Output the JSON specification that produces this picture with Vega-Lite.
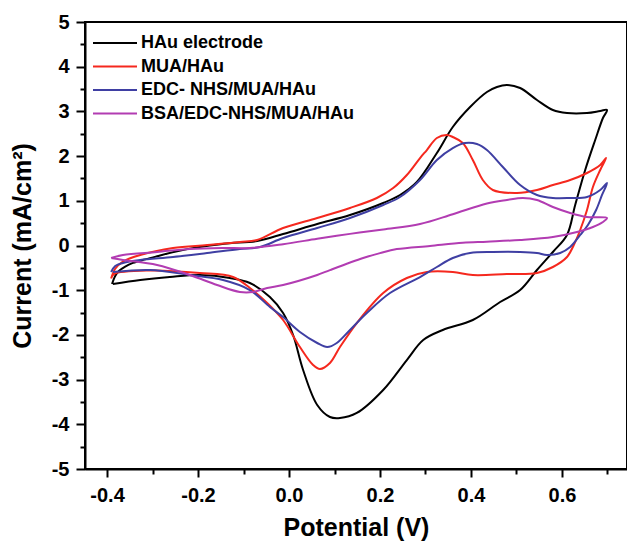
{
  "$schema": "https://vega.github.io/schema/vega-lite/v6.json",
  "width": 542,
  "height": 447,
  "autosize": "none",
  "padding": {"left": 85, "top": 22, "right": 0, "bottom": 73},
  "background": "white",
  "config": {
    "view": {"stroke": "black", "strokeWidth": 2},
    "axis": {"grid": false, "domainColor": "black", "domainWidth": 2, "tickColor": "black", "tickWidth": 2, "labelColor": "black", "labelFont": "Liberation Sans", "labelFontWeight": "bold", "labelFontSize": 20, "titleFont": "Liberation Sans", "titleFontWeight": "bold", "titleFontSize": 25, "titleColor": "black", "labelOverlap": false, "labelFlush": false, "labelBound": false}
  },
  "datasets": {
    "cv": [
      {"s":"HAu electrode","i":0,"v":-0.389,"c":-0.861},{"s":"HAu electrode","i":1,"v":-0.382,"c":-0.680},{"s":"HAu electrode","i":2,"v":-0.374,"c":-0.570},{"s":"HAu electrode","i":3,"v":-0.360,"c":-0.470},{"s":"HAu electrode","i":4,"v":-0.343,"c":-0.390},{"s":"HAu electrode","i":5,"v":-0.316,"c":-0.310},{"s":"HAu electrode","i":6,"v":-0.290,"c":-0.240},{"s":"HAu electrode","i":7,"v":-0.251,"c":-0.140},{"s":"HAu electrode","i":8,"v":-0.218,"c":-0.070},{"s":"HAu electrode","i":9,"v":-0.174,"c":0.000},{"s":"HAu electrode","i":10,"v":-0.130,"c":0.050},{"s":"HAu electrode","i":11,"v":-0.070,"c":0.101},{"s":"HAu electrode","i":12,"v":-0.013,"c":0.257},{"s":"HAu electrode","i":13,"v":0.062,"c":0.481},{"s":"HAu electrode","i":14,"v":0.134,"c":0.682},{"s":"HAu electrode","i":15,"v":0.207,"c":0.951},{"s":"HAu electrode","i":16,"v":0.244,"c":1.130},{"s":"HAu electrode","i":17,"v":0.281,"c":1.421},{"s":"HAu electrode","i":18,"v":0.325,"c":2.069},{"s":"HAu electrode","i":19,"v":0.360,"c":2.651},{"s":"HAu electrode","i":20,"v":0.398,"c":3.098},{"s":"HAu electrode","i":21,"v":0.435,"c":3.434},{"s":"HAu electrode","i":22,"v":0.457,"c":3.546},{"s":"HAu electrode","i":23,"v":0.479,"c":3.591},{"s":"HAu electrode","i":24,"v":0.508,"c":3.523},{"s":"HAu electrode","i":25,"v":0.545,"c":3.255},{"s":"HAu electrode","i":26,"v":0.580,"c":3.031},{"s":"HAu electrode","i":27,"v":0.611,"c":2.964},{"s":"HAu electrode","i":28,"v":0.655,"c":2.964},{"s":"HAu electrode","i":29,"v":0.684,"c":3.009},{"s":"HAu electrode","i":30,"v":0.699,"c":3.031},{"s":"HAu electrode","i":31,"v":0.690,"c":2.852},{"s":"HAu electrode","i":32,"v":0.673,"c":2.360},{"s":"HAu electrode","i":33,"v":0.651,"c":1.689},{"s":"HAu electrode","i":34,"v":0.629,"c":0.906},{"s":"HAu electrode","i":35,"v":0.611,"c":0.235},{"s":"HAu electrode","i":36,"v":0.580,"c":-0.145},{"s":"HAu electrode","i":37,"v":0.545,"c":-0.548},{"s":"HAu electrode","i":38,"v":0.508,"c":-0.996},{"s":"HAu electrode","i":39,"v":0.464,"c":-1.264},{"s":"HAu electrode","i":40,"v":0.404,"c":-1.667},{"s":"HAu electrode","i":41,"v":0.338,"c":-1.890},{"s":"HAu electrode","i":42,"v":0.295,"c":-2.114},{"s":"HAu electrode","i":43,"v":0.259,"c":-2.562},{"s":"HAu electrode","i":44,"v":0.207,"c":-3.233},{"s":"HAu electrode","i":45,"v":0.149,"c":-3.747},{"s":"HAu electrode","i":46,"v":0.112,"c":-3.859},{"s":"HAu electrode","i":47,"v":0.090,"c":-3.837},{"s":"HAu electrode","i":48,"v":0.062,"c":-3.568},{"s":"HAu electrode","i":49,"v":0.031,"c":-2.785},{"s":"HAu electrode","i":50,"v":0.009,"c":-2.002},{"s":"HAu electrode","i":51,"v":-0.013,"c":-1.510},{"s":"HAu electrode","i":52,"v":-0.042,"c":-1.152},{"s":"HAu electrode","i":53,"v":-0.086,"c":-0.839},{"s":"HAu electrode","i":54,"v":-0.130,"c":-0.727},{"s":"HAu electrode","i":55,"v":-0.196,"c":-0.660},{"s":"HAu electrode","i":56,"v":-0.262,"c":-0.705},{"s":"HAu electrode","i":57,"v":-0.327,"c":-0.772},{"s":"HAu electrode","i":58,"v":-0.387,"c":-0.861},

      {"s":"MUA/HAu","i":0,"v":-0.391,"c":-0.740},{"s":"MUA/HAu","i":1,"v":-0.382,"c":-0.520},{"s":"MUA/HAu","i":2,"v":-0.365,"c":-0.360},{"s":"MUA/HAu","i":3,"v":-0.327,"c":-0.213},{"s":"MUA/HAu","i":4,"v":-0.255,"c":-0.056},{"s":"MUA/HAu","i":5,"v":-0.180,"c":0.011},{"s":"MUA/HAu","i":6,"v":-0.108,"c":0.078},{"s":"MUA/HAu","i":7,"v":-0.070,"c":0.123},{"s":"MUA/HAu","i":8,"v":-0.013,"c":0.391},{"s":"MUA/HAu","i":9,"v":0.062,"c":0.615},{"s":"MUA/HAu","i":10,"v":0.134,"c":0.839},{"s":"MUA/HAu","i":11,"v":0.193,"c":1.063},{"s":"MUA/HAu","i":12,"v":0.229,"c":1.286},{"s":"MUA/HAu","i":13,"v":0.259,"c":1.577},{"s":"MUA/HAu","i":14,"v":0.288,"c":1.957},{"s":"MUA/HAu","i":15,"v":0.303,"c":2.136},{"s":"MUA/HAu","i":16,"v":0.325,"c":2.405},{"s":"MUA/HAu","i":17,"v":0.347,"c":2.472},{"s":"MUA/HAu","i":18,"v":0.360,"c":2.427},{"s":"MUA/HAu","i":19,"v":0.382,"c":2.293},{"s":"MUA/HAu","i":20,"v":0.404,"c":1.913},{"s":"MUA/HAu","i":21,"v":0.426,"c":1.465},{"s":"MUA/HAu","i":22,"v":0.448,"c":1.242},{"s":"MUA/HAu","i":23,"v":0.501,"c":1.174},{"s":"MUA/HAu","i":24,"v":0.545,"c":1.242},{"s":"MUA/HAu","i":25,"v":0.580,"c":1.353},{"s":"MUA/HAu","i":26,"v":0.618,"c":1.465},{"s":"MUA/HAu","i":27,"v":0.655,"c":1.622},{"s":"MUA/HAu","i":28,"v":0.684,"c":1.801},{"s":"MUA/HAu","i":29,"v":0.697,"c":1.957},{"s":"MUA/HAu","i":30,"v":0.684,"c":1.689},{"s":"MUA/HAu","i":31,"v":0.668,"c":1.309},{"s":"MUA/HAu","i":32,"v":0.655,"c":0.794},{"s":"MUA/HAu","i":33,"v":0.640,"c":0.347},{"s":"MUA/HAu","i":34,"v":0.626,"c":0.011},{"s":"MUA/HAu","i":35,"v":0.611,"c":-0.257},{"s":"MUA/HAu","i":36,"v":0.580,"c":-0.481},{"s":"MUA/HAu","i":37,"v":0.545,"c":-0.615},{"s":"MUA/HAu","i":38,"v":0.479,"c":-0.638},{"s":"MUA/HAu","i":39,"v":0.404,"c":-0.660},{"s":"MUA/HAu","i":40,"v":0.360,"c":-0.593},{"s":"MUA/HAu","i":41,"v":0.303,"c":-0.593},{"s":"MUA/HAu","i":42,"v":0.259,"c":-0.727},{"s":"MUA/HAu","i":43,"v":0.207,"c":-1.063},{"s":"MUA/HAu","i":44,"v":0.149,"c":-1.734},{"s":"MUA/HAu","i":45,"v":0.112,"c":-2.271},{"s":"MUA/HAu","i":46,"v":0.090,"c":-2.629},{"s":"MUA/HAu","i":47,"v":0.068,"c":-2.763},{"s":"MUA/HAu","i":48,"v":0.053,"c":-2.673},{"s":"MUA/HAu","i":49,"v":0.024,"c":-2.271},{"s":"MUA/HAu","i":50,"v":-0.013,"c":-1.667},{"s":"MUA/HAu","i":51,"v":-0.048,"c":-1.286},{"s":"MUA/HAu","i":52,"v":-0.086,"c":-0.951},{"s":"MUA/HAu","i":53,"v":-0.123,"c":-0.705},{"s":"MUA/HAu","i":54,"v":-0.196,"c":-0.615},{"s":"MUA/HAu","i":55,"v":-0.305,"c":-0.560},{"s":"MUA/HAu","i":56,"v":-0.385,"c":-0.640},{"s":"MUA/HAu","i":57,"v":-0.391,"c":-0.740},

      {"s":"EDC- NHS/MUA/HAu","i":0,"v":-0.391,"c":-0.593},{"s":"EDC- NHS/MUA/HAu","i":1,"v":-0.382,"c":-0.459},{"s":"EDC- NHS/MUA/HAu","i":2,"v":-0.365,"c":-0.391},{"s":"EDC- NHS/MUA/HAu","i":3,"v":-0.327,"c":-0.324},{"s":"EDC- NHS/MUA/HAu","i":4,"v":-0.255,"c":-0.257},{"s":"EDC- NHS/MUA/HAu","i":5,"v":-0.180,"c":-0.168},{"s":"EDC- NHS/MUA/HAu","i":6,"v":-0.108,"c":-0.078},{"s":"EDC- NHS/MUA/HAu","i":7,"v":-0.064,"c":-0.034},{"s":"EDC- NHS/MUA/HAu","i":8,"v":-0.013,"c":0.168},{"s":"EDC- NHS/MUA/HAu","i":9,"v":0.062,"c":0.391},{"s":"EDC- NHS/MUA/HAu","i":10,"v":0.134,"c":0.615},{"s":"EDC- NHS/MUA/HAu","i":11,"v":0.207,"c":0.906},{"s":"EDC- NHS/MUA/HAu","i":12,"v":0.244,"c":1.085},{"s":"EDC- NHS/MUA/HAu","i":13,"v":0.288,"c":1.465},{"s":"EDC- NHS/MUA/HAu","i":14,"v":0.325,"c":1.913},{"s":"EDC- NHS/MUA/HAu","i":15,"v":0.360,"c":2.181},{"s":"EDC- NHS/MUA/HAu","i":16,"v":0.387,"c":2.293},{"s":"EDC- NHS/MUA/HAu","i":17,"v":0.413,"c":2.271},{"s":"EDC- NHS/MUA/HAu","i":18,"v":0.435,"c":2.136},{"s":"EDC- NHS/MUA/HAu","i":19,"v":0.470,"c":1.756},{"s":"EDC- NHS/MUA/HAu","i":20,"v":0.508,"c":1.353},{"s":"EDC- NHS/MUA/HAu","i":21,"v":0.545,"c":1.130},{"s":"EDC- NHS/MUA/HAu","i":22,"v":0.580,"c":1.063},{"s":"EDC- NHS/MUA/HAu","i":23,"v":0.618,"c":1.063},{"s":"EDC- NHS/MUA/HAu","i":24,"v":0.655,"c":1.085},{"s":"EDC- NHS/MUA/HAu","i":25,"v":0.684,"c":1.242},{"s":"EDC- NHS/MUA/HAu","i":26,"v":0.699,"c":1.398},{"s":"EDC- NHS/MUA/HAu","i":27,"v":0.688,"c":1.130},{"s":"EDC- NHS/MUA/HAu","i":28,"v":0.675,"c":0.794},{"s":"EDC- NHS/MUA/HAu","i":29,"v":0.657,"c":0.459},{"s":"EDC- NHS/MUA/HAu","i":30,"v":0.640,"c":0.235},{"s":"EDC- NHS/MUA/HAu","i":31,"v":0.618,"c":-0.034},{"s":"EDC- NHS/MUA/HAu","i":32,"v":0.596,"c":-0.168},{"s":"EDC- NHS/MUA/HAu","i":33,"v":0.567,"c":-0.213},{"s":"EDC- NHS/MUA/HAu","i":34,"v":0.545,"c":-0.168},{"s":"EDC- NHS/MUA/HAu","i":35,"v":0.508,"c":-0.145},{"s":"EDC- NHS/MUA/HAu","i":36,"v":0.448,"c":-0.145},{"s":"EDC- NHS/MUA/HAu","i":37,"v":0.398,"c":-0.168},{"s":"EDC- NHS/MUA/HAu","i":38,"v":0.360,"c":-0.280},{"s":"EDC- NHS/MUA/HAu","i":39,"v":0.325,"c":-0.481},{"s":"EDC- NHS/MUA/HAu","i":40,"v":0.288,"c":-0.705},{"s":"EDC- NHS/MUA/HAu","i":41,"v":0.222,"c":-1.063},{"s":"EDC- NHS/MUA/HAu","i":42,"v":0.171,"c":-1.510},{"s":"EDC- NHS/MUA/HAu","i":43,"v":0.134,"c":-1.890},{"s":"EDC- NHS/MUA/HAu","i":44,"v":0.105,"c":-2.181},{"s":"EDC- NHS/MUA/HAu","i":45,"v":0.084,"c":-2.271},{"s":"EDC- NHS/MUA/HAu","i":46,"v":0.062,"c":-2.181},{"s":"EDC- NHS/MUA/HAu","i":47,"v":0.024,"c":-1.935},{"s":"EDC- NHS/MUA/HAu","i":48,"v":-0.013,"c":-1.600},{"s":"EDC- NHS/MUA/HAu","i":49,"v":-0.042,"c":-1.376},{"s":"EDC- NHS/MUA/HAu","i":50,"v":-0.086,"c":-0.996},{"s":"EDC- NHS/MUA/HAu","i":51,"v":-0.145,"c":-0.772},{"s":"EDC- NHS/MUA/HAu","i":52,"v":-0.218,"c":-0.660},{"s":"EDC- NHS/MUA/HAu","i":53,"v":-0.305,"c":-0.548},{"s":"EDC- NHS/MUA/HAu","i":54,"v":-0.387,"c":-0.593},

      {"s":"BSA/EDC-NHS/MUA/HAu","i":0,"v":-0.391,"c":-0.280},{"s":"BSA/EDC-NHS/MUA/HAu","i":1,"v":-0.365,"c":-0.213},{"s":"BSA/EDC-NHS/MUA/HAu","i":2,"v":-0.290,"c":-0.145},{"s":"BSA/EDC-NHS/MUA/HAu","i":3,"v":-0.218,"c":-0.078},{"s":"BSA/EDC-NHS/MUA/HAu","i":4,"v":-0.145,"c":-0.056},{"s":"BSA/EDC-NHS/MUA/HAu","i":5,"v":-0.086,"c":-0.056},{"s":"BSA/EDC-NHS/MUA/HAu","i":6,"v":-0.013,"c":0.030},{"s":"BSA/EDC-NHS/MUA/HAu","i":7,"v":0.062,"c":0.150},{"s":"BSA/EDC-NHS/MUA/HAu","i":8,"v":0.134,"c":0.260},{"s":"BSA/EDC-NHS/MUA/HAu","i":9,"v":0.207,"c":0.360},{"s":"BSA/EDC-NHS/MUA/HAu","i":10,"v":0.288,"c":0.480},{"s":"BSA/EDC-NHS/MUA/HAu","i":11,"v":0.360,"c":0.700},{"s":"BSA/EDC-NHS/MUA/HAu","i":12,"v":0.435,"c":0.940},{"s":"BSA/EDC-NHS/MUA/HAu","i":13,"v":0.479,"c":1.018},{"s":"BSA/EDC-NHS/MUA/HAu","i":14,"v":0.514,"c":1.063},{"s":"BSA/EDC-NHS/MUA/HAu","i":15,"v":0.545,"c":1.018},{"s":"BSA/EDC-NHS/MUA/HAu","i":16,"v":0.580,"c":0.861},{"s":"BSA/EDC-NHS/MUA/HAu","i":17,"v":0.618,"c":0.727},{"s":"BSA/EDC-NHS/MUA/HAu","i":18,"v":0.655,"c":0.638},{"s":"BSA/EDC-NHS/MUA/HAu","i":19,"v":0.699,"c":0.615},{"s":"BSA/EDC-NHS/MUA/HAu","i":20,"v":0.690,"c":0.526},{"s":"BSA/EDC-NHS/MUA/HAu","i":21,"v":0.668,"c":0.414},{"s":"BSA/EDC-NHS/MUA/HAu","i":22,"v":0.633,"c":0.302},{"s":"BSA/EDC-NHS/MUA/HAu","i":23,"v":0.580,"c":0.190},{"s":"BSA/EDC-NHS/MUA/HAu","i":24,"v":0.508,"c":0.123},{"s":"BSA/EDC-NHS/MUA/HAu","i":25,"v":0.435,"c":0.085},{"s":"BSA/EDC-NHS/MUA/HAu","i":26,"v":0.382,"c":0.060},{"s":"BSA/EDC-NHS/MUA/HAu","i":27,"v":0.310,"c":-0.010},{"s":"BSA/EDC-NHS/MUA/HAu","i":28,"v":0.237,"c":-0.080},{"s":"BSA/EDC-NHS/MUA/HAu","i":29,"v":0.200,"c":-0.170},{"s":"BSA/EDC-NHS/MUA/HAu","i":30,"v":0.163,"c":-0.280},{"s":"BSA/EDC-NHS/MUA/HAu","i":31,"v":0.090,"c":-0.550},{"s":"BSA/EDC-NHS/MUA/HAu","i":32,"v":0.062,"c":-0.660},{"s":"BSA/EDC-NHS/MUA/HAu","i":33,"v":-0.013,"c":-0.884},{"s":"BSA/EDC-NHS/MUA/HAu","i":34,"v":-0.048,"c":-0.951},{"s":"BSA/EDC-NHS/MUA/HAu","i":35,"v":-0.079,"c":-1.040},{"s":"BSA/EDC-NHS/MUA/HAu","i":36,"v":-0.108,"c":-1.040},{"s":"BSA/EDC-NHS/MUA/HAu","i":37,"v":-0.158,"c":-0.884},{"s":"BSA/EDC-NHS/MUA/HAu","i":38,"v":-0.218,"c":-0.660},{"s":"BSA/EDC-NHS/MUA/HAu","i":39,"v":-0.290,"c":-0.436},{"s":"BSA/EDC-NHS/MUA/HAu","i":40,"v":-0.365,"c":-0.324},{"s":"BSA/EDC-NHS/MUA/HAu","i":41,"v":-0.391,"c":-0.280}
    ]
  },
  "data": {"name": "cv"},
  "mark": {"type": "line", "strokeWidth": 2, "interpolate": "catmull-rom", "clip": true},
  "encoding": {
    "x": {
      "field": "v", "type": "quantitative",
      "scale": {"domain": [-0.4484, 0.7429], "nice": false, "zero": false},
      "axis": {
        "title": "Potential (V)",
        "values": [-0.4, -0.3, -0.2, -0.1, 0, 0.1, 0.2, 0.3, 0.4, 0.5, 0.6, 0.7],
        "labelExpr": "abs(round(datum.value*10)) % 2 == 0 ? replace(format(datum.value, '.1f'), '\u2212', '-') : ''",
        "tickSize": {"condition": {"test": "abs(round(datum.value*10)) % 2 == 1", "value": 5}, "value": 8},
        "labelPadding": 8,
        "titlePadding": 10
      }
    },
    "y": {
      "field": "c", "type": "quantitative",
      "scale": {"domain": [-5, 5], "nice": false, "zero": false},
      "axis": {
        "title": "Current (mA/cm\u00b2)",
        "values": [-5, -4.5, -4, -3.5, -3, -2.5, -2, -1.5, -1, -0.5, 0, 0.5, 1, 1.5, 2, 2.5, 3, 3.5, 4, 4.5, 5],
        "labelExpr": "datum.value % 1 == 0 ? replace(format(datum.value, 'd'), '\u2212', '-') : ''",
        "tickSize": {"condition": {"test": "datum.value % 1 != 0", "value": 5}, "value": 9},
        "labelPadding": 7,
        "titlePadding": 16
      }
    },
    "color": {
      "field": "s", "type": "nominal",
      "scale": {"domain": ["HAu electrode", "MUA/HAu", "EDC- NHS/MUA/HAu", "BSA/EDC-NHS/MUA/HAu"], "range": ["#000000", "#f5281e", "#3f3fa3", "#b23cb2"]},
      "legend": {
        "title": null, "orient": "none", "legendX": 7, "legendY": 9,
        "symbolType": "M -1 0 L 3 0", "symbolSize": 484, "symbolStrokeWidth": 2,
        "labelFont": "Liberation Sans", "labelFontWeight": "bold", "labelFontSize": 18, "labelColor": "black",
        "labelOffset": 25, "labelLimit": 400, "padding": 0, "rowPadding": 2.5
      }
    },
    "order": {"field": "i", "type": "quantitative"}
  }
}
